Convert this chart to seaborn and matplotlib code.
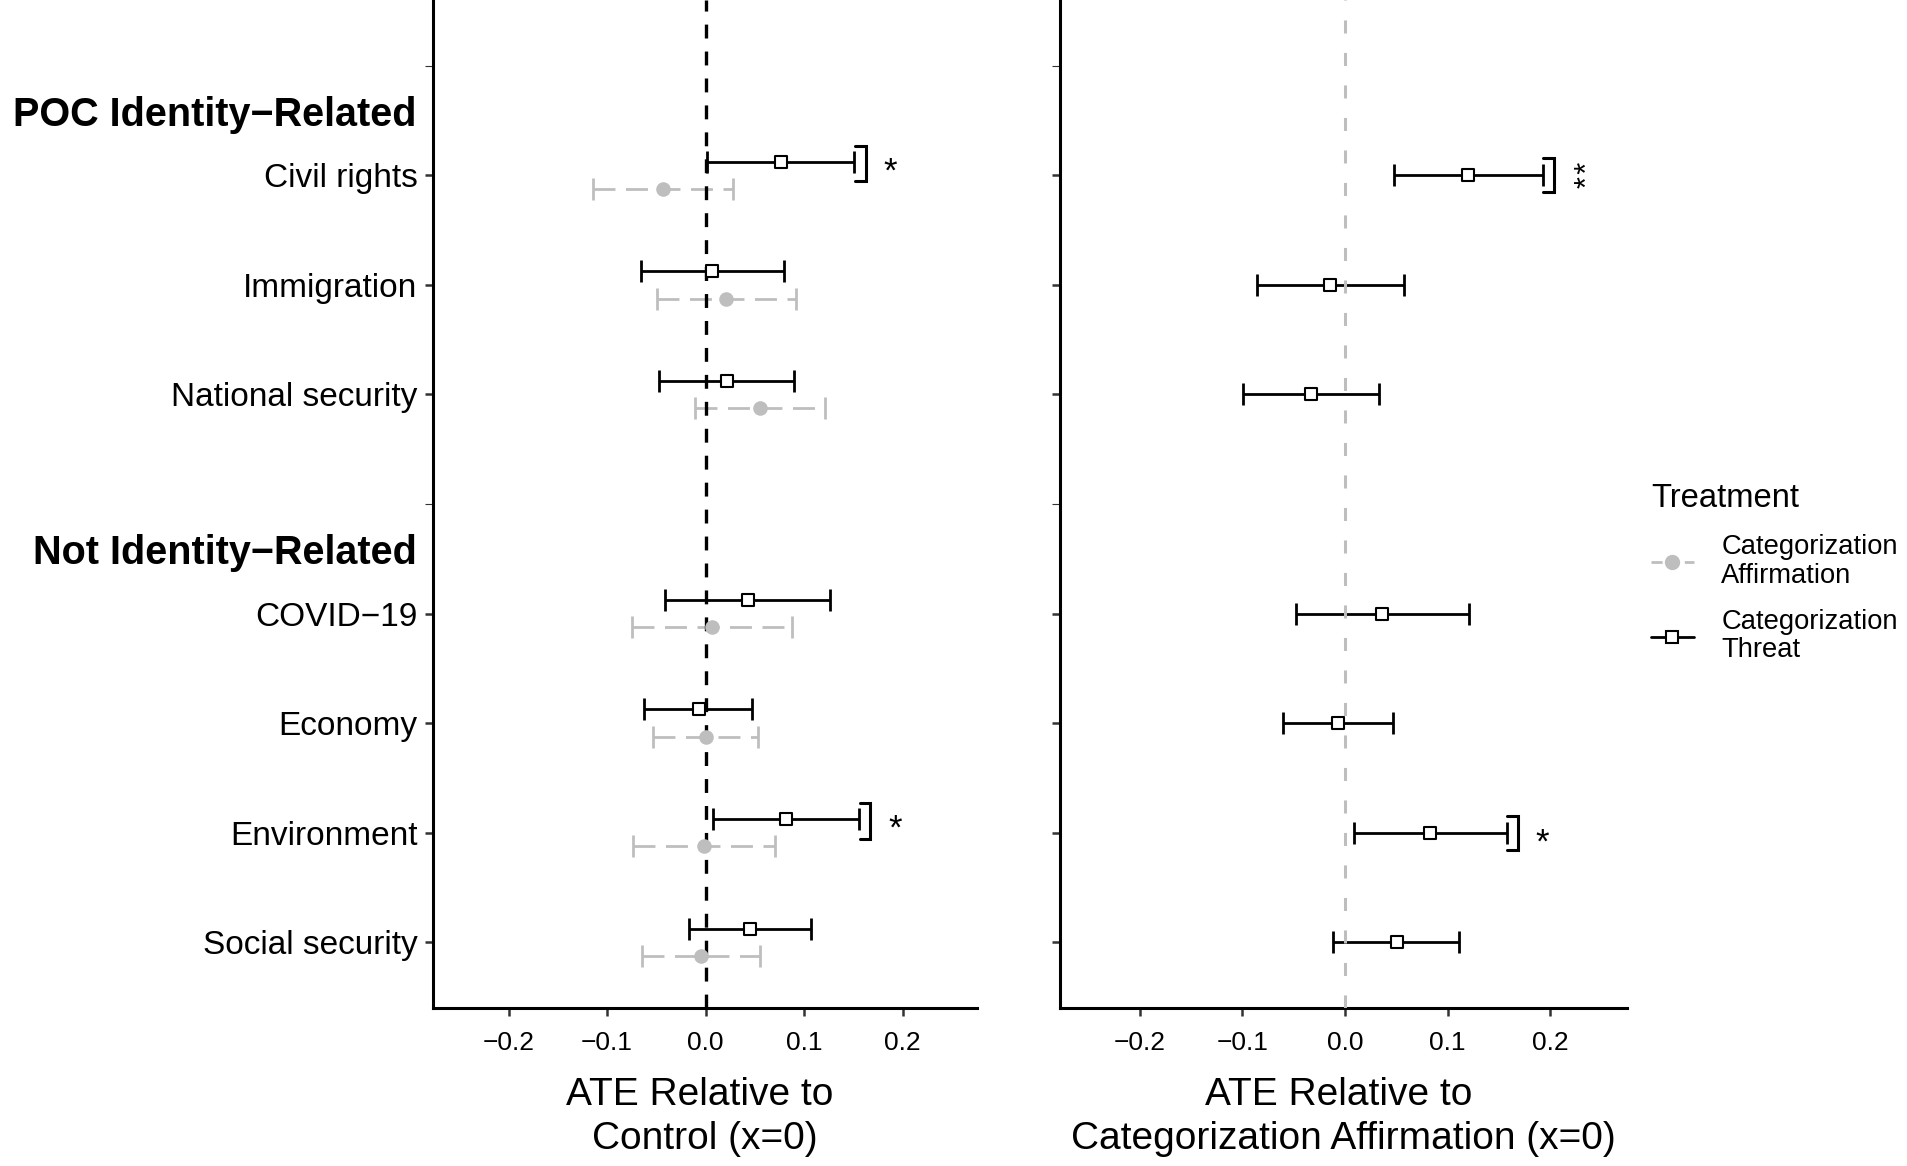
import numpy as np
import pandas as pd
import matplotlib
matplotlib.use("Agg")
import matplotlib.pyplot as plt
import seaborn as sns
from matplotlib.lines import Line2D

sns.set_theme(style="ticks")
plt.rcParams['font.family'] = ['Liberation Sans', 'DejaVu Sans']
plt.rcParams['lines.scale_dashes'] = False
plt.rcParams['text.color'] = 'black'
plt.rcParams['axes.labelcolor'] = 'black'
plt.rcParams['xtick.labelcolor'] = 'black'
plt.rcParams['ytick.labelcolor'] = 'black'

# ---- data ----
groups = ["POC Identity\u2212Related", "Not Identity\u2212Related"]
issues = ["Civil rights", "Immigration", "National security",
          "COVID\u221219", "Economy", "Environment", "Social security"]
issue_group = [0, 0, 0, 1, 1, 1, 1]

# left panel: ATE relative to control
threat_est = [0.0764, 0.0064, 0.0216, 0.0426, -0.0071, 0.0812, 0.0450]
threat_lo = [0.0010, -0.0660, -0.0470, -0.0410, -0.0623, 0.0074, -0.0170]
threat_hi = [0.1506, 0.0795, 0.0900, 0.1265, 0.0473, 0.1553, 0.1072]
affirm_est = [-0.0430, 0.0209, 0.0548, 0.0064, 0.0000, -0.0014, -0.0048]
affirm_lo = [-0.1147, -0.0490, -0.0110, -0.0745, -0.0530, -0.0735, -0.0644]
affirm_hi = [0.0280, 0.0917, 0.1215, 0.0873, 0.0534, 0.0707, 0.0554]
sig_left = ["*", "", "", "", "", "*", ""]

# right panel: threat relative to affirmation
diff_est = [0.1200, -0.0145, -0.0328, 0.0365, -0.0071, 0.0831, 0.0503]
diff_lo = [0.0480, -0.0853, -0.0995, -0.0473, -0.0607, 0.0086, -0.0112]
diff_hi = [0.1926, 0.0574, 0.0335, 0.1207, 0.0469, 0.1576, 0.1110]
sig_right = ["**", "", "", "", "", "*", ""]

xticks = [-0.2, -0.1, 0.0, 0.1, 0.2]

GREY = "#BEBEBE"

# row slots: one blank slot (group header) before each group
slot_labels, issue_y, group_y = [], [], []
for g in range(len(groups)):
    slot_labels.append("")
    group_y.append(len(slot_labels))
    for i, gi in enumerate(issue_group):
        if gi == g:
            slot_labels.append(issues[i])
            issue_y.append(len(slot_labels))
slots = np.arange(1, len(slot_labels) + 1)

df_left = pd.concat([
    pd.DataFrame({"issue": issues, "y": np.array(issue_y) - 0.125, "est": threat_est,
                  "lo": threat_lo, "hi": threat_hi, "treat": "Categorization Threat"}),
    pd.DataFrame({"issue": issues, "y": np.array(issue_y) + 0.125, "est": affirm_est,
                  "lo": affirm_lo, "hi": affirm_hi, "treat": "Categorization Affirmation"}),
])
df_right = pd.DataFrame({"issue": issues, "y": issue_y, "est": diff_est,
                         "lo": diff_lo, "hi": diff_hi, "treat": "Categorization Threat"})

fig = plt.figure(figsize=(19.07, 11.66), dpi=100)
ax1 = fig.add_axes([0.2269, 0.1355, 0.2852, 0.8645])
ax2 = fig.add_axes([0.5561, 0.1355, 0.2972, 0.8645])


def draw_bars(ax, d, color, dashed):
    eb = ax.errorbar(d["est"], d["y"], xerr=[d["est"] - d["lo"], d["hi"] - d["est"]],
                     fmt="none", ecolor=color, elinewidth=2.0, capsize=8, capthick=2.0,
                     zorder=2)
    if dashed:
        eb[2][0].set_linestyle((0, (15.8, 7.6)))


def draw_points(ax, d, kind):
    if kind == "threat":
        sns.scatterplot(data=d, x="est", y="y", ax=ax, marker="s", s=64, color="white",
                        edgecolor="black", linewidth=1.5, zorder=4, legend=False)
    else:
        sns.scatterplot(data=d, x="est", y="y", ax=ax, marker="o", s=110, color=GREY,
                        edgecolor=GREY, linewidth=0, zorder=4, legend=False)


def bracket(ax, x, y0, y1):
    w = 0.011
    ax.plot([x - w, x, x, x - w], [y0, y0, y1, y1], color="black", lw=2.2,
            solid_joinstyle="miter", zorder=3)


STAR = 25


def stars(ax, s, x, y):
    if len(s) > 1:
        # several asterisks: one text turned on its side, so they stack
        ax.annotate("\u200a".join(s), xy=(x, y), xytext=(25.3, 0),
                    textcoords="offset points", ha="center", va="center",
                    fontsize=22, rotation=90)
    else:
        ax.annotate(s, xy=(x, y), xytext=(17.7, -0.57 * STAR),
                    textcoords="offset points", ha="center", va="baseline", fontsize=STAR)


th = df_left[df_left["treat"] == "Categorization Threat"]
af = df_left[df_left["treat"] == "Categorization Affirmation"]

draw_bars(ax1, af, GREY, True)
draw_bars(ax1, th, "black", False)
ax1.axvline(0, color="black", lw=2.4, linestyle=(0, (10, 9.4)), zorder=3)
draw_points(ax1, af, "affirm")
draw_points(ax1, th, "threat")

draw_bars(ax2, df_right, "black", False)
ax2.axvline(0, color=GREY, lw=2.2, linestyle=(0, (9.4, 14)), zorder=3)
draw_points(ax2, df_right, "threat")

# significance brackets
for i, s in enumerate(sig_left):
    if s:
        bx = threat_hi[i] + 0.012
        bracket(ax1, bx, issue_y[i] - 0.27, issue_y[i] + 0.055)
        stars(ax1, s, bx, issue_y[i] - 0.125)
for i, s in enumerate(sig_right):
    if s:
        bx = diff_hi[i] + 0.011
        bracket(ax2, bx, issue_y[i] - 0.155, issue_y[i] + 0.155)
        stars(ax2, s, bx, issue_y[i])

xt_labels = [f"{v:.1f}".replace("-", "\u2212") for v in xticks]
for ax in (ax1, ax2):
    ax.set_xlim(-0.277, 0.275)
    ax.set_ylim(len(slots) + 0.6, 0.4)
    ax.set_xticks(xticks)
    ax.set_xticklabels(xt_labels, fontsize=19)
    ax.set_yticks(slots)
    ax.set_ylabel("")
    for sp in ("top", "right"):
        ax.spines[sp].set_visible(False)
    for sp in ("left", "bottom"):
        ax.spines[sp].set_color("black")
        ax.spines[sp].set_linewidth(2.2)
    ax.tick_params(axis="both", length=5.8, width=1.8, color="#333333", labelcolor="black")
    ax.tick_params(axis="x", pad=10.5)
    ax.tick_params(axis="y", pad=5.2)
    for k, lab in enumerate(slot_labels):
        if lab == "":
            t = ax.yaxis.get_major_ticks()[k]
            t.tick1line.set_color("#D4D4D4")
            t.tick1line.set_markeredgewidth(0.8)

ax1.set_yticklabels(slot_labels, fontsize=24)
ax2.set_yticklabels([])

for g, gy in zip(groups, group_y):
    ax1.annotate(g, xy=(0, gy + 0.41), xycoords=("axes fraction", "data"),
                 xytext=(-11.4, 0), textcoords="offset points", ha="right",
                 va="center_baseline", fontsize=28.5, fontweight="bold", color="black")

ax1.set_xlabel("ATE Relative to \nControl (x=0)", fontsize=28, linespacing=1.27, labelpad=16.3)
ax2.set_xlabel("ATE Relative to \nCategorization Affirmation (x=0)", fontsize=28,
               linespacing=1.27, labelpad=16.3)

handles = [
    Line2D([0], [0], color=GREY, lw=2.0, linestyle=(0, (8, 4)), marker="o",
           markersize=10, markerfacecolor=GREY, markeredgecolor=GREY),
    Line2D([0], [0], color="black", lw=2.0, marker="s", markersize=8,
           markerfacecolor="white", markeredgecolor="black", markeredgewidth=1.5),
]
leg = fig.legend(handles, ["Categorization\nAffirmation", "Categorization\nThreat"],
                 title="Treatment", loc="upper left", bbox_to_anchor=(0.8657, 0.5859),
                 frameon=False, fontsize=19.7, title_fontsize=23.6, alignment="left",
                 handlelength=1.57, handletextpad=1.0, labelspacing=0.75, borderpad=0,
                 borderaxespad=0)
for t in leg.get_texts():
    t.set_linespacing(1.11)

fig.savefig("out.png", dpi=100)
